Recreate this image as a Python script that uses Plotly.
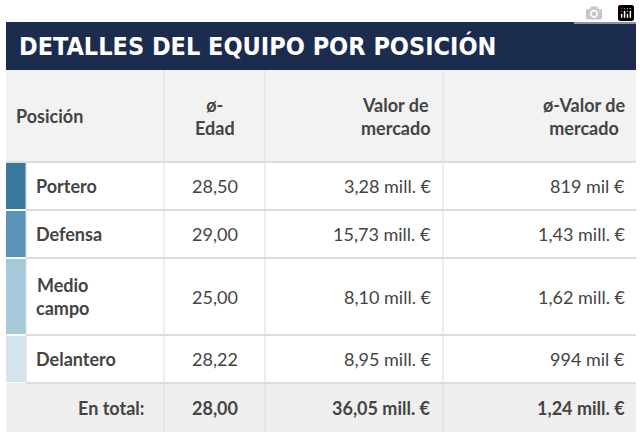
import plotly.graph_objects as go

title = "DETALLES DEL EQUIPO POR POSICIÓN"
headers = ["Posición", "ø-<br>Edad", "Valor de<br>mercado", "ø-Valor de<br>mercado"]
positions = ["Portero", "Defensa", "Medio<br>campo", "Delantero"]
ages = ["28,50", "29,00", "25,00", "28,22"]
market = ["3,28 mill. €", "15,73 mill. €", "8,10 mill. €", "8,95 mill. €"]
avg_market = ["819 mil €", "1,43 mill. €", "1,62 mill. €", "994 mil €"]
total = ["En total:", "28,00", "36,05 mill. €", "1,24 mill. €"]
strip_colors = ["#3a78a0", "#5a93b8", "#a5c8db", "#d3e4ee"]

# layout in pixels
col_x = [6, 164, 265, 443, 636]
row_y = [162, 210, 258, 335, 383, 432]
TXT = "#444444"
FONT = "Lato"
BORDER = "#dcdcdc"

fig = go.Figure()
shapes = []
ann = []

def rect(x0, y0, x1, y1, fill, line=None):
    shapes.append(dict(type="rect", x0=x0, y0=y0, x1=x1, y1=y1, fillcolor=fill,
                       line=dict(color=line or fill, width=1 if line else 0), layer="below"))

def text(x, y, s, anchor, bold=False, size=17, color=TXT):
    ann.append(dict(x=x, y=y, text=f"<b>{s}</b>" if bold else s, xanchor=anchor, yanchor="middle",
                    showarrow=False, font=dict(family=FONT, size=size, color=color)))

# title bar
rect(6, 22, 636, 70, "#1b2c4f")
text(17, 46, title, "left", bold=True, size=25, color="white")
ann[-1]["font"]["family"] = "DejaVu Sans Condensed"

# header
rect(6, 70, 636, row_y[0], "#f2f2f2")
for x in col_x[1:4]:
    shapes.append(dict(type="line", x0=x, x1=x, y0=70, y1=432, line=dict(color=BORDER, width=1)))
text(14, 116, headers[0], "left", True, size=18)
text(215, 116, headers[1], "center", True, size=18)
text(433, 116, headers[2], "right", True, size=18)
text(627, 116, headers[3], "right", True, size=18)

# rows
for i in range(len(positions)):
    y0, y1 = row_y[i], row_y[i + 1]
    ym = (y0 + y1) / 2
    rect(6, y0, 636, y1, "white")
    rect(6, y0 + 1, 26, y1 - 1, strip_colors[i])
    shapes.append(dict(type="line", x0=26, x1=636, y0=y1, y1=y1, line=dict(color=BORDER, width=2)))
    text(34, ym, positions[i], "left", True, size=18)
    text(215, ym, ages[i], "center", size=18)
    text(433, ym, market[i], "right", size=18)
    text(627, ym, avg_market[i], "right", size=18)
shapes.append(dict(type="line", x0=26, x1=26, y0=row_y[0], y1=row_y[4], line=dict(color=BORDER, width=1)))
shapes.append(dict(type="line", x0=6, x1=636, y0=row_y[0], y1=row_y[0], line=dict(color=BORDER, width=2)))

# total row
rect(6, row_y[4], 636, 432, "#efefef")
ym = (row_y[4] + 432) / 2
text(146, ym, total[0], "right", True, size=18)
text(215, ym, total[1], "center", True, size=18)
text(433, ym, total[2], "right", True, size=18)
text(627, ym, total[3], "right", True, size=18)

fig.update_layout(
    width=640, height=432, margin=dict(l=0, r=0, t=0, b=0),
    paper_bgcolor="white", plot_bgcolor="white",
    xaxis=dict(range=[0, 640], visible=False, fixedrange=True),
    yaxis=dict(range=[432, 0], visible=False, fixedrange=True),
    shapes=shapes, annotations=ann, showlegend=False,
)
fig.write_html("out.html", post_script="document.body.style.margin='0';document.body.style.overflow='hidden';")
